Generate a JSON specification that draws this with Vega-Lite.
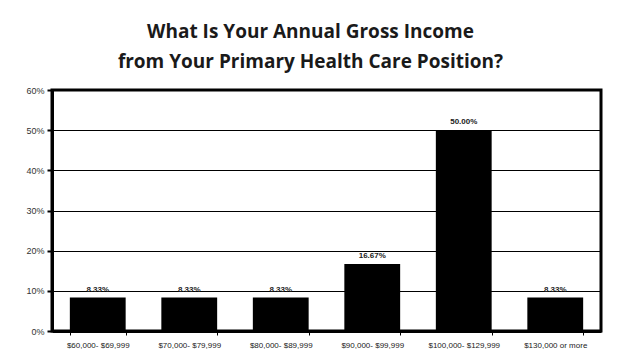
{
  "$schema": "https://vega.github.io/schema/vega-lite/v6.json",
  "width": 549,
  "height": 241,
  "autosize": {"type": "none"},
  "padding": {"left": 52, "top": 90, "right": 24, "bottom": 27},
  "background": "white",
  "title": {
    "text": ["What Is Your Annual Gross Income", "from Your Primary Health Care Position?"],
    "font": "Open Sans",
    "fontWeight": "bold",
    "fontSize": 19,
    "lineHeight": 30,
    "color": "#1a1a1a",
    "anchor": "middle",
    "dx": -16,
    "offset": 14
  },
  "data": {
    "values": [
      {"income": "$60,000- $69,999", "pct": 0.0833},
      {"income": "$70,000- $79,999", "pct": 0.0833},
      {"income": "$80,000- $89,999", "pct": 0.0833},
      {"income": "$90,000- $99,999", "pct": 0.1667},
      {"income": "$100,000- $129,999", "pct": 0.5},
      {"income": "$130,000 or more", "pct": 0.0833}
    ]
  },
  "encoding": {
    "x": {
      "field": "income",
      "type": "nominal",
      "sort": null,
      "scale": {"paddingInner": 0.39, "paddingOuter": 0.195},
      "axis": {
        "title": null,
        "labelAngle": 0,
        "labelFont": "Liberation Sans",
        "labelFontSize": 8,
        "labelColor": "#222",
        "labelPadding": 6,
        "tickBand": "extent",
        "tickColor": "black",
        "tickSize": 4,
        "tickWidth": 1,
        "domainColor": "black",
        "domainWidth": 3,
        "grid": false
      }
    },
    "y": {
      "field": "pct",
      "type": "quantitative",
      "scale": {"domain": [0, 0.6]},
      "axis": {
        "title": null,
        "format": ".0%",
        "values": [0, 0.1, 0.2, 0.3, 0.4, 0.5, 0.6],
        "labelFont": "Liberation Sans",
        "labelFontSize": 9,
        "labelColor": "#333",
        "labelPadding": 3,
        "tickColor": "black",
        "tickSize": 5,
        "tickWidth": 2,
        "domainColor": "black",
        "domainWidth": 3,
        "grid": true,
        "gridColor": "black",
        "gridWidth": 1,
        "gridOpacity": 1
      }
    }
  },
  "layer": [
    {"mark": {"type": "bar", "color": "black"}},
    {
      "mark": {
        "type": "text",
        "baseline": "bottom",
        "dy": -4,
        "font": "Liberation Sans",
        "fontSize": 8,
        "fontWeight": "bold",
        "color": "#222"
      },
      "encoding": {"text": {"field": "pct", "type": "quantitative", "format": ".2%"}}
    }
  ],
  "config": {
    "view": {"stroke": "black", "strokeWidth": 3}
  }
}
